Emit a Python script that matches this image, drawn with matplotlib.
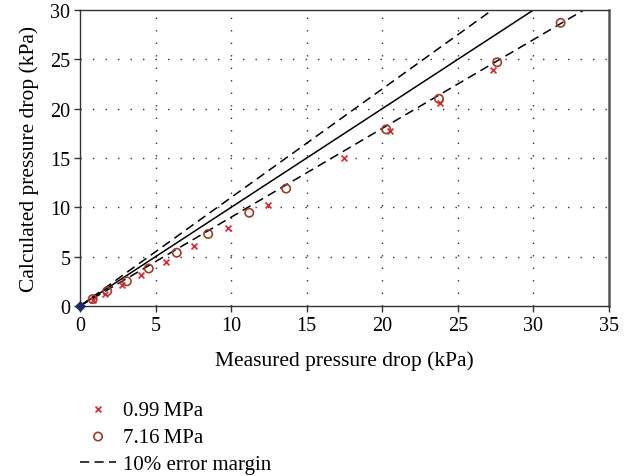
import matplotlib
matplotlib.use("Agg")
import matplotlib.pyplot as plt
import numpy as np

plt.rcParams['font.family'] = ['Liberation Serif', 'DejaVu Serif']

# data
x_099 = [0.84, 1.66, 2.8, 4.04, 5.7, 7.55, 9.78, 12.47, 17.44, 20.5, 23.8, 27.3]
y_099 = [0.64, 1.2, 2.1, 3.1, 4.5, 6.1, 7.9, 10.2, 14.97, 17.7, 20.6, 23.9]
x_716 = [0.84, 1.8, 3.1, 4.55, 6.4, 8.48, 11.2, 13.64, 20.26, 23.75, 27.6, 31.8]
y_716 = [0.7, 1.5, 2.5, 3.8, 5.4, 7.3, 9.45, 11.9, 17.9, 21.0, 24.7, 28.7]
line_x = [0, 35]
margin_hi = 1.1
margin_lo = 0.9
x_ticks = [0, 5, 10, 15, 20, 25, 30, 35]
y_ticks = [0, 5, 10, 15, 20, 25, 30]

fig = plt.figure(figsize=(6.3, 4.77), dpi=100)
ax = fig.add_axes([80/630, 1-307/477, (609-80)/630, (307-11)/477])

for v in x_ticks[1:-1]:
    ax.plot([v, v], [0, 30], color='#333333', lw=1.0, ls=(0, (1, 8)), zorder=1)
for v in y_ticks[1:-1]:
    ax.plot([0, 35], [v, v], color='#333333', lw=1.0, ls=(0, (1, 8)), zorder=1)

lx = np.array(line_x, dtype=float)
ax.plot(lx, lx, color='black', lw=1.1, zorder=2)
hd, = ax.plot(lx, lx * margin_hi, color='black', lw=1.1, ls=(0, (6, 3.5)), zorder=2)
ax.plot(lx, lx * margin_lo, color='black', lw=1.1, ls=(0, (6, 3.5)), zorder=2)

h1 = ax.scatter(x_099, y_099, marker='x', s=18, color='#e8232b', linewidths=1.2, zorder=3)
h2 = ax.scatter(x_716, y_716, marker='o', s=36, facecolors='none', edgecolors='#a33a26', linewidths=1.2, zorder=3)
ax.scatter([0], [0], marker='D', s=22, color='#1f2a6e', zorder=4, clip_on=False)

ax.set_xlim(0, 35)
ax.set_ylim(0, 30)
ax.set_xticks(x_ticks)
ax.set_yticks(y_ticks)
ax.tick_params(direction='out', length=4, width=1, labelsize=14.5, color='#333333', pad=3)
for s in ax.spines.values():
    s.set_color('#333333')
    s.set_linewidth(1.0)
ax.spines['right'].set_linewidth(1.8)
ax.spines['right'].set_color('#555555')

ax.set_xlabel('Measured pressure drop (kPa)', fontsize=15.5)
ax.xaxis.set_label_coords(0.5, -(361 - 307) / 296)
ax.xaxis.label.set_verticalalignment('center')
ax.set_ylabel('Calculated pressure drop (kPa)', fontsize=15.5)
ax.yaxis.set_label_coords(-(80 - 29) / 529, 0.5)
ax.yaxis.label.set_verticalalignment('center')

fig.legend([h1, h2, hd], ['0.99\u2009MPa', '7.16\u2009MPa', '10% error margin'],
           loc='upper left', bbox_to_anchor=(72/630, 1-393/477), frameon=False,
           fontsize=15, handlelength=1.7, handletextpad=0.35, labelspacing=0.36,
           borderaxespad=0)

fig.savefig('out.png', dpi=100)
